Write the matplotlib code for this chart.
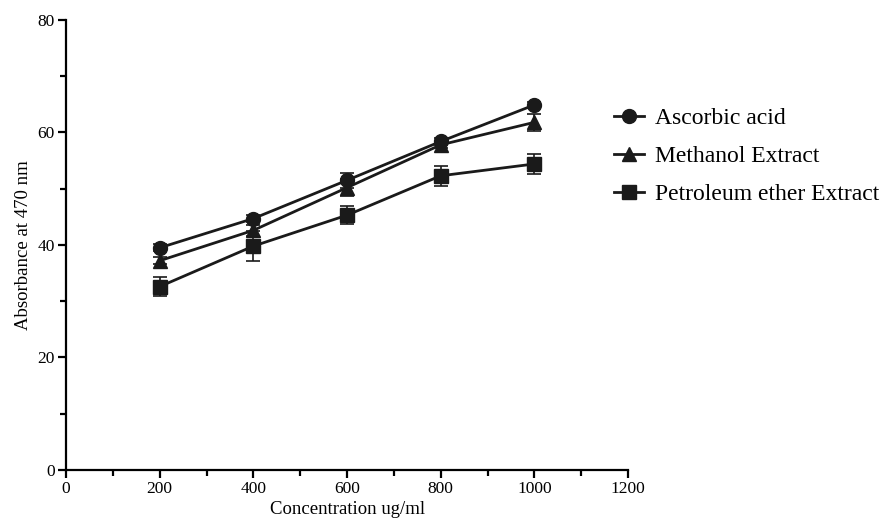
import matplotlib
matplotlib.use("Agg")
import matplotlib.pyplot as plt
from matplotlib.ticker import MultipleLocator
from matplotlib.lines import Line2D

conc = [200, 400, 600, 800, 1000]
ascorbic = [39.5, 44.7, 51.5, 58.4, 64.9]
ascorbic_err = [0.6, 0.6, 1.3, 0.6, 0.6]
methanol = [37.2, 42.6, 50.2, 57.8, 61.8]
methanol_err = [0.6, 1.0, 1.5, 0.6, 1.5]
petroleum = [32.6, 39.8, 45.3, 52.3, 54.4]
petroleum_err = [1.7, 2.6, 1.6, 1.8, 1.7]

labels = ["Ascorbic acid", "Methanol Extract", "Petroleum ether Extract"]

plt.rcParams['font.family'] = ['Liberation Serif', 'DejaVu Serif']

fig = plt.figure(figsize=(8.96, 5.25), dpi=100)
ax = fig.add_axes([0.0737, 0.1048, 0.6273, 0.8572])

col = '#1a1a1a'
series = [(ascorbic, ascorbic_err, 'o', 10), (methanol, methanol_err, '^', 10), (petroleum, petroleum_err, 's', 10)]
handles = []
for (vals, err, mk, ms), lab in zip(series, labels):
    ax.errorbar(conc, vals, yerr=err, color=col, marker=mk, markersize=ms,
                linewidth=2, elinewidth=1.2, capsize=5, capthick=1.2, label=lab)
    handles.append(Line2D([], [], color=col, marker=mk, markersize=ms, linewidth=2))

ax.set_xlim(0, 1200)
ax.set_ylim(0, 80)
ax.xaxis.set_major_locator(MultipleLocator(200))
ax.xaxis.set_minor_locator(MultipleLocator(100))
ax.yaxis.set_major_locator(MultipleLocator(20))
ax.yaxis.set_minor_locator(MultipleLocator(10))
for s in ['top', 'right']:
    ax.spines[s].set_visible(False)
for s in ['left', 'bottom']:
    ax.spines[s].set_linewidth(1.6)
ax.tick_params(which='major', direction='out', length=6, width=1.6, labelsize=12.5, pad=2)
ax.tick_params(which='minor', direction='out', length=4, width=1.6)
ax.set_xlabel("Concentration ug/ml", fontsize=13.5, labelpad=3)
ax.set_ylabel("Absorbance at 470 nm", fontsize=13.5, labelpad=4)

leg = fig.legend(handles=handles, labels=labels, loc='upper left', bbox_to_anchor=(0.685, 0.7946),
                 frameon=False, fontsize=17, handlelength=1.3, labelspacing=0.7, handletextpad=0.45,
                 borderpad=0, borderaxespad=0)

fig.savefig("out.png", dpi=100)
